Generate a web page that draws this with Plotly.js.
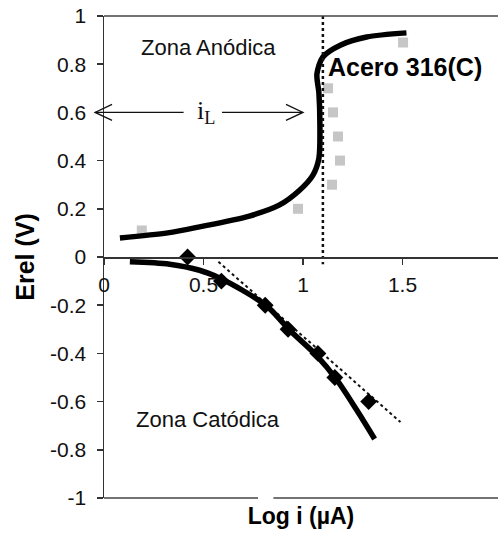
<!DOCTYPE html>
<html>
<head>
<meta charset="utf-8">
<script src="https://cdn.plot.ly/plotly-3.0.1.min.js"></script>
<style>html,body{margin:0;padding:0;background:#fff;}#chart{width:498px;height:533px;}</style>
</head>
<body>
<div id="chart"></div>
<script>
// Anodic polarization curve (fitted, thick line)
const anodicCurveX = [0.08, 0.32, 0.48, 0.73, 0.88, 0.98, 1.05, 1.08, 1.085, 1.08, 1.07, 1.10, 1.19, 1.32, 1.52];
const anodicCurveY = [0.079, 0.10, 0.125, 0.17, 0.215, 0.275, 0.34, 0.41, 0.55, 0.68, 0.76, 0.83, 0.88, 0.913, 0.93];
// Anodic measured points (gray squares)
const anodicDataX = [0.19, 0.975, 1.146, 1.186, 1.176, 1.151, 1.126, 1.503];
const anodicDataY = [0.11, 0.20, 0.30, 0.40, 0.50, 0.60, 0.70, 0.89];
// Cathodic polarization curve (fitted, thick line)
const cathodicCurveX = [0.13, 0.33, 0.48, 0.58, 0.70, 0.82, 0.935, 1.07, 1.17, 1.27, 1.36];
const cathodicCurveY = [-0.02, -0.03, -0.055, -0.087, -0.14, -0.205, -0.305, -0.41, -0.51, -0.635, -0.755];
// Cathodic measured points (black diamonds)
const cathodicDataX = [0.42, 0.59, 0.81, 0.925, 1.075, 1.16, 1.33];
const cathodicDataY = [0.0, -0.10, -0.20, -0.30, -0.40, -0.50, -0.60];
// Tafel extrapolation (dotted)
const tafelX = [0.575, 1.49];
const tafelY = [-0.02, -0.685];
// Limiting current (dotted vertical)
const limitX = [1.1, 1.1];
const limitY = [1.0, -0.03];
// Ticks
const xTickVals = [0, 0.5, 1, 1.5];
const xTickText = ['0', '0.5', '1', '1.5'];
const yTickVals = [-1, -0.8, -0.6, -0.4, -0.2, 0, 0.2, 0.4, 0.6, 0.8, 1];
const yTickText = ['-1', '-0.8', '-0.6', '-0.4', '-0.2', '0', '0.2', '0.4', '0.6', '0.8', '1'];

const XR = [0, 1.98];
const YR = [-1, 1];
const FONT = 'Liberation Sans, Arial, sans-serif';

// i_L double arrow (annotation geometry, in data units)
const arrowY = 0.6;
const arrowLeftTip = -0.045, arrowLeftEnd = 0.40;
const arrowRightStart = 0.593, arrowRightTip = 1.0;

const W = 498, H = 533, M = {l: 104, r: 0, t: 16, b: 35};
const plotW = W - M.l - M.r, plotH = H - M.t - M.b;
const px = v => (v - XR[0]) / (XR[1] - XR[0]);
const py = v => (v - YR[0]) / (YR[1] - YR[0]);
const headL = 17 / plotW, headH = 8 / plotH;
const ay = py(arrowY);
const lineStyle = {color: '#111', width: 1.3};

const traces = [
  {x: anodicDataX, y: anodicDataY, mode: 'markers', type: 'scatter',
   marker: {symbol: 'square', size: 10, color: '#c6c6c6'}, hoverinfo: 'skip'},
  {x: limitX, y: limitY, mode: 'lines', type: 'scatter', xaxis: 'x2',
   line: {color: '#111', width: 2.5, dash: 'dot'}, hoverinfo: 'skip'},
  {x: tafelX, y: tafelY, mode: 'lines', type: 'scatter',
   line: {color: '#111', width: 2, dash: 'dot'}, hoverinfo: 'skip'},
  {x: anodicCurveX, y: anodicCurveY, mode: 'lines', type: 'scatter',
   line: {color: '#000', width: 5.5, shape: 'spline', smoothing: 0.8}, hoverinfo: 'skip'},
  {x: cathodicCurveX, y: cathodicCurveY, mode: 'lines', type: 'scatter',
   line: {color: '#000', width: 5.5, shape: 'spline', smoothing: 0.9}, hoverinfo: 'skip'},
  {x: cathodicDataX, y: cathodicDataY, mode: 'markers', type: 'scatter',
   marker: {symbol: 'diamond', size: 13, color: '#000'}, hoverinfo: 'skip'}
];

const lt = px(arrowLeftTip), le = px(arrowLeftEnd), rs = px(arrowRightStart), rt = px(arrowRightTip);

const layout = {
  width: W, height: H,
  margin: M,
  paper_bgcolor: '#fff', plot_bgcolor: '#fff',
  showlegend: false,
  font: {family: FONT, color: '#111'},
  xaxis: {
    range: XR, showgrid: false, zeroline: false, showline: false,
    showticklabels: false, ticks: '',
    title: {text: 'Log i (µA)', font: {family: FONT, size: 23, color: '#000', weight: 'bold'}, standoff: 9}
  },
  xaxis2: {
    range: XR, overlaying: 'x', anchor: 'free', position: 0.5, side: 'bottom',
    showgrid: false, zeroline: false, showline: true, linecolor: '#333', linewidth: 1.5,
    ticks: 'outside', ticklen: 6, tickcolor: '#333', tickwidth: 1.5,
    tickvals: xTickVals, ticktext: xTickText, ticklabelstandoff: 2,
    tickfont: {family: FONT, size: 21, color: '#111'}
  },
  yaxis: {
    range: YR, showgrid: false, zeroline: false,
    showline: true, linecolor: '#333', linewidth: 1.5,
    ticks: 'outside', ticklen: 6, tickcolor: '#333', tickwidth: 1.5,
    tickvals: yTickVals, ticktext: yTickText, ticklabelstandoff: 6,
    tickfont: {family: FONT, size: 21, color: '#111'},
    title: {text: 'Erel (V)', font: {family: FONT, size: 25, color: '#000', weight: 'bold'}, standoff: 8}
  },
  shapes: [
    {type: 'line', xref: 'paper', yref: 'paper', x0: 0, x1: 1, y0: 1, y1: 1, line: {color: '#444', width: 1.5}},
    {type: 'line', xref: 'paper', yref: 'paper', x0: 0, x1: 0.391, y0: 0, y1: 0, line: {color: '#444', width: 1.5}},
    {type: 'line', xref: 'paper', yref: 'paper', x0: 0.43, x1: 1, y0: 0, y1: 0, line: {color: '#444', width: 1.5}},
    // left arrow
    {type: 'line', xref: 'paper', yref: 'paper', x0: lt, x1: le, y0: ay, y1: ay, line: lineStyle},
    {type: 'path', xref: 'paper', yref: 'paper',
     path: `M ${lt + headL} ${ay + headH} L ${lt} ${ay} L ${lt + headL} ${ay - headH}`, line: lineStyle},
    // right arrow
    {type: 'line', xref: 'paper', yref: 'paper', x0: rs, x1: rt, y0: ay, y1: ay, line: lineStyle},
    {type: 'path', xref: 'paper', yref: 'paper',
     path: `M ${rt - headL} ${ay + headH} L ${rt} ${ay} L ${rt - headL} ${ay - headH}`, line: lineStyle}
  ],
  annotations: [
    {text: 'Zona Anódica', x: 0.523, y: 0.871, xref: 'x', yref: 'y', showarrow: false,
     font: {family: FONT, size: 22, color: '#111'}},
    {text: 'Zona Catódica', x: 0.525, y: -0.676, xref: 'x', yref: 'y', showarrow: false,
     font: {family: FONT, size: 22, color: '#111'}},
    {text: '<b>Acero 316(C)</b>', x: 1.115, y: 0.79, xref: 'x', yref: 'y', xanchor: 'left', showarrow: false,
     font: {family: FONT, size: 25, color: '#000'}},
    {text: 'i<sub>L</sub>', x: 0.513, y: 0.6, xref: 'x', yref: 'y', showarrow: false,
     font: {family: 'Liberation Serif, Times New Roman, serif', size: 26, color: '#111'}}
  ]
};

Plotly.newPlot('chart', traces, layout, {displayModeBar: false, staticPlot: true});
</script>
</body>
</html>
